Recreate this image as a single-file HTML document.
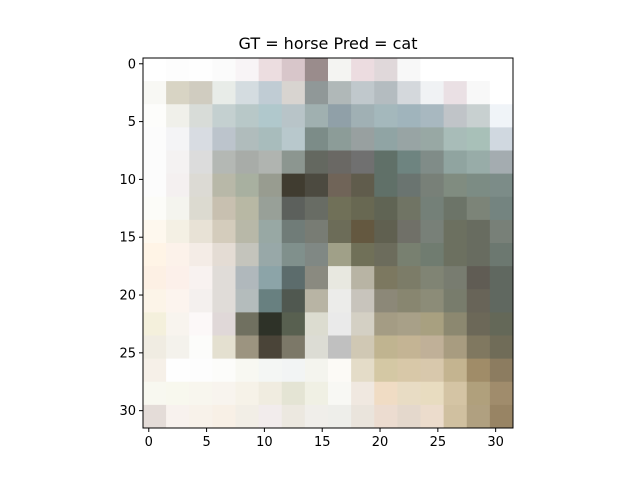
<!DOCTYPE html>
<html><head><meta charset="utf-8"><style>
body{margin:0;background:#fff;}
svg text{font-family:"DejaVu Sans","Liberation Sans",sans-serif;}
</style></head><body>
<svg id="chart" width="640" height="480" viewBox="0 0 640 480">
<text x="328" y="49" text-anchor="middle" font-size="16">GT = horse Pred = cat</text>
<g id="cells"></g>
<g id="xticks"></g>
<g id="yticks"></g>
<rect x="143" y="58" width="370" height="370" fill="none" stroke="#000" stroke-width="1"/>
</svg>
<script>
const gridRows = [
"ffffff fdfdfd fefefe fbfbfb f8f4f6 ecdde0 d8c6ca 9a8c8c f4f4f2 ecdce0 e0d8da f8f8f8 ffffff ffffff ffffff ffffff",
"f8f8f4 d8d4c4 d0ccc0 e8ece8 d4dce0 c0ccd4 d8d4d0 909898 b0b8b8 c0c8cc b4bcc0 d4d8dc f0f2f4 eae0e4 f8f8f8 ffffff",
"fdfdfb f0f0ea d8dcd8 c4d0d0 b8c8c8 b0c8cc b8c4c8 a0b0b0 90a0a8 a0b0b4 a4b8bc a0b4bc a8b8c0 c0c4c8 c8d0d0 f0f4f8",
"fcfcfc f4f4f6 d8dce2 bcc4cc b0bcbc a8bcbc b8c8cc 7c8c88 8c9c98 98a0a0 90a4a4 98a4a4 98a8a4 a8bcb8 a8c0b8 d0d8e0",
"fcfcfc f4f2f2 dcdcdc b4b8b4 a8aca8 b0b4b0 8c9690 646860 6a6864 707070 607068 6e8480 808c88 90a4a0 98aca8 a4acb0",
"fcfcfc f4f0f0 dcdad4 b8b8a8 a8b0a0 989c90 403c30 4c4a40 706458 605c4c 607068 6a7470 788078 808c80 7c8c84 7c8c88",
"fcfcf8 f4f4ee dcdad0 c8c0b0 b8b8a4 98a098 5c605c 686c64 707058 686852 606454 707464 748078 6c7468 7c8478 748480",
"fef8ee f4f0e4 e8e2d6 d4ccbc b8b8a8 98a8a4 707c78 787c74 6c6c58 645840 606050 707068 788078 6c7060 686c60 788078",
"fff4e6 fcf2ea f4ece6 e4dcd4 c4c4bc 98a8a8 80908c 808884 a0a088 707058 6c6c5c 788070 707c70 6c7060 686c60 6c7870",
"fdf0e4 fcf0ea f8f2f0 e0dcd8 b0b8bc 8ca4a8 5c6c6c 8a8a80 e8e8e0 b8b4a4 7c7860 7c7c68 808474 787c70 605c54 606860",
"fcf4e8 fcf4ee f4f0ee e0dcd8 b4bcbc 688080 505850 b8b4a4 ececea c8c4bc 8c8878 888670 8c8c78 787c6c 686458 606860",
"f4f0dc f8f4ee fcf8f8 e0d8d8 707060 2e3228 586050 dcdcd0 eaeaea d4d0c4 a49c84 a8a088 a8a080 8c8870 6c6858 646858",
"f0ece2 f4f2ec fcfcfa e4e0d0 9c9480 4a4438 7c7868 dcdcd4 c0c0c0 d0c8b4 c0b490 c4b494 c0b098 a89c80 807860 706c58",
"f6f0e8 fefefe fdfdfd fcfcfa f8f8f2 f4f6f4 f2f4f4 f4f4ee fcfaf6 e4dcc8 d4c8a4 d8c8a8 d8c8ac c4b490 a08c68 8c7c60",
"f8f8f0 f8f8ee f8f6ee f8f4ee f6f2e8 f0ece0 e4e4d4 f0f0e4 f8f8f4 f0e8e0 f0dcc4 e8dcc4 e8dcc0 d4c4a4 b0a07c a08c6c",
"e4dcd8 f8f2ee f8f2ea f8f0e6 f2eee6 f2ecec ece8e0 f0eeea eeeeea eae4dc ecdcd0 e4d8cc ecdccc d0c0a0 b0a080 988464"
];
const xTickValues = [0,5,10,15,20,25,30];
const yTickValues = [0,5,10,15,20,25,30];
const imgSize = 32;

const NS = "http://www.w3.org/2000/svg";
const x0 = 143, y0 = 58, W = 370, H = 370;
const xScale = v => x0 + (v + 0.5) * W / imgSize;   // pixel-centre coordinate
const yScale = v => y0 + (v + 0.5) * H / imgSize;

const cells = document.getElementById('cells');
const n = gridRows.length;
const block = imgSize / n;
gridRows.forEach((row, r) => {
  row.split(' ').forEach((c, ci) => {
    const rect = document.createElementNS(NS, 'rect');
    const xl = xScale(ci * block - 0.5), yt = yScale(r * block - 0.5);
    rect.setAttribute('x', xl);
    rect.setAttribute('y', yt);
    rect.setAttribute('width', W / n + 0.4);
    rect.setAttribute('height', H / n + 0.4);
    rect.setAttribute('fill', '#' + c);
    
    
    cells.appendChild(rect);
  });
});

const xg = document.getElementById('xticks');
xTickValues.forEach(v => {
  const x = xScale(v);
  const l = document.createElementNS(NS, 'line');
  l.setAttribute('x1', x); l.setAttribute('x2', x);
  l.setAttribute('y1', y0 + H); l.setAttribute('y2', y0 + H + 4);
  l.setAttribute('stroke', '#000');
  
  
  xg.appendChild(l);
  const t = document.createElementNS(NS, 'text');
  t.setAttribute('x', x); t.setAttribute('y', y0 + H + 18);
  t.setAttribute('text-anchor', 'middle'); t.setAttribute('font-size', '13');
  t.textContent = v;
  
  
  xg.appendChild(t);
});
const yg = document.getElementById('yticks');
yTickValues.forEach(v => {
  const y = yScale(v);
  const l = document.createElementNS(NS, 'line');
  l.setAttribute('x1', x0 - 4); l.setAttribute('x2', x0);
  l.setAttribute('y1', y); l.setAttribute('y2', y);
  l.setAttribute('stroke', '#000');
  
  
  yg.appendChild(l);
  const t = document.createElementNS(NS, 'text');
  t.setAttribute('x', x0 - 7); t.setAttribute('y', y + 4.5);
  t.setAttribute('text-anchor', 'end'); t.setAttribute('font-size', '13');
  t.textContent = v;
  
  
  yg.appendChild(t);
});
</script>
</body></html>
